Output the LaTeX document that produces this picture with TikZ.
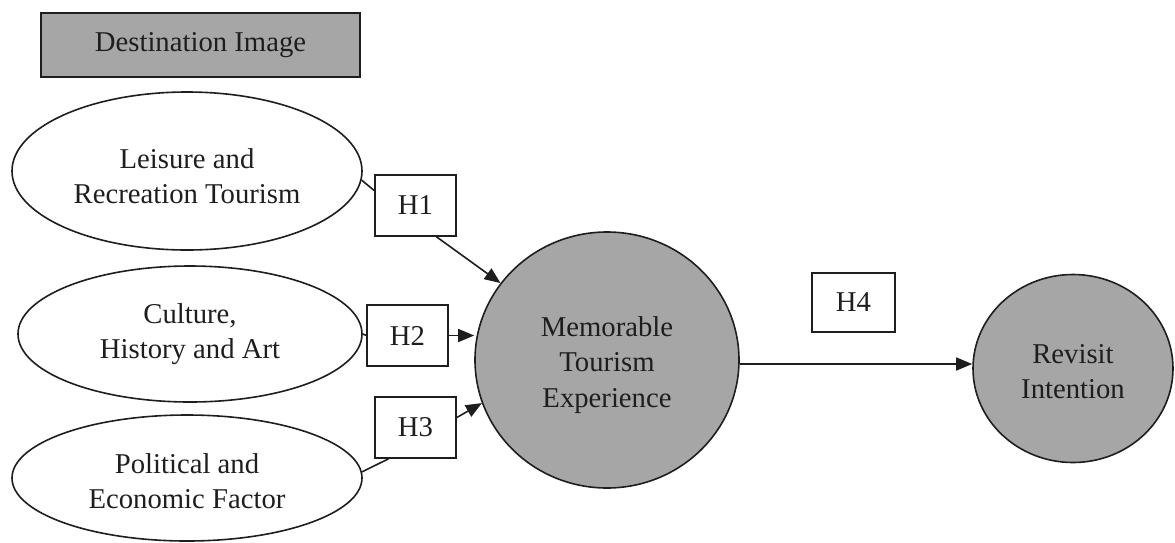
\documentclass[tikz,border=0pt]{standalone}
\usepackage{fontspec}
\setmainfont{Liberation Serif}
\usetikzlibrary{shapes.geometric,arrows.meta}
\definecolor{fillgray}{HTML}{A6A6A6}
\definecolor{ink}{HTML}{1E1E1E}
\newcommand{\topstrut}[1]{\rule{0pt}{#1pt}}
\tikzset{
  base/.style={draw=ink, line width=1.6pt, text=ink, inner sep=0pt, align=center,
    font=\fontsize{28.7}{35.5}\selectfont},
  oval/.style={base, ellipse},
  hbox/.style={base, rectangle, minimum width=81pt, minimum height=61pt},
  bigc/.style={base, ellipse, fill=fillgray},
  link/.style={draw=ink, line width=1.6pt},
  arr/.style={link, -{Triangle[length=16pt,width=13pt]}}
}
\begin{document}
\begin{tikzpicture}[x=1pt,y=-1pt]
\useasboundingbox (0,0) rectangle (1175,542);
\node[base, fill=fillgray, minimum width=319pt, minimum height=64pt] (di) at (200.5,45) {Destination Image};
\node[oval, minimum width=350pt, minimum height=158pt] (e1) at (187,171) {\topstrut{30}Leisure and\\Recreation Tourism};
\node[oval, minimum width=344pt, minimum height=136pt] (e2) at (190,334) {Culture,\\History and Art};
\node[oval, minimum width=350pt, minimum height=126pt] (e3) at (187,478) {\topstrut{26}Political and\\Economic Factor};
\node[hbox] (h1) at (415.5,205.5) {H1};
\node[hbox] (h2) at (407.5,335.5) {H2};
\node[hbox] (h3) at (415.5,427.5) {H3};
\node[hbox, minimum width=83pt, minimum height=59pt] (h4) at (853.5,302.5) {H4};
\node[bigc, minimum width=264pt, minimum height=256pt] (mte) at (607,360) {\topstrut{30}Memorable\\Tourism\\Experience};
\node[bigc, minimum width=200pt, minimum height=188pt] (ri) at (1073,368.5) {\topstrut{25}Revisit\\Intention};
\coordinate (m4) at (mte.east |- 0,364);
\coordinate (r4) at (ri.west |- 0,364);
\draw[link] (e1.-3) -- ([yshift=15pt]h1.west);
\draw[link] (e2.east) -- (h2.west);
\draw[link] (e3.2) -- ([xshift=-27pt]h3.south);
\draw[arr] ([xshift=21pt]h1.south) -- (mte);
\draw[arr] (h2.east) -- (h2.east -| mte.west);
\draw[arr] ([yshift=10pt]h3.east) -- (mte.199);
\draw[arr] (m4) -- (r4);
\end{tikzpicture}
\end{document}
